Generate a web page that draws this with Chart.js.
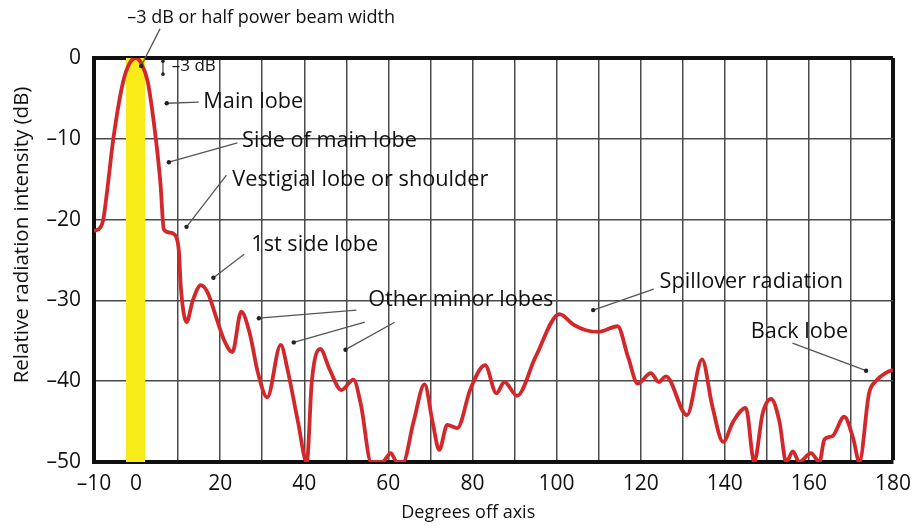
<!DOCTYPE html>
<html>
<head>
<meta charset="utf-8">
<script src="https://cdn.jsdelivr.net/npm/chart.js@4.4.1/dist/chart.umd.min.js"></script>
<style>
  html, body { margin: 0; background: #fff; }
  #wrap { width: 920px; height: 530px; }
</style>
</head>
<body>
<div id="wrap"><canvas id="beamChart"></canvas></div>
<script>
// angle off boresight (degrees) and relative intensity (dB)
const angles = [
  -10, -8.5, -7.8, -7, -5.4, -3.1, -1.5, 0, 1.2, 2.8, 4.7, 5.8, 6.6, 8, 9.4,
  10.2, 10.6, 11.3, 12, 13.5, 15.4, 17, 19, 21, 22.9, 25, 27, 29, 31.2, 34.4,
  36, 38.5, 40.6, 41.8, 43.8, 46, 48.8, 51.7, 53.5, 55.9, 58.5, 60.6, 62, 63.5,
  66, 68.6, 70.5, 72.1, 74, 76.4, 79.5, 83, 85.7, 87.6, 90.6, 95, 100.7, 104,
  107, 110, 114.5, 117, 119.3, 122.4, 124.3, 126, 131, 134.6, 137, 139.6, 142,
  145, 147, 149, 151, 153, 154.6, 156.2, 157.7, 160.5, 162.5, 163.7, 165.6,
  168.4, 170.5, 172, 174.3, 175.9, 178.5, 180
];
const intensity = [
  -21.4, -21, -20, -17, -10, -3, -0.6, 0, -0.6, -3, -10, -15.5, -21.2, -21.6, -22,
  -24, -28, -31.5, -32.7, -30, -28.1, -29, -32, -35, -36.4, -31.4, -34, -39, -42, -35.5,
  -38.5, -45, -50, -40, -36, -38.5, -41.1, -39.8, -43, -50, -50, -48.9, -50, -50,
  -45, -40.4, -45, -48.5, -45.4, -45.8, -41, -38, -41.5, -40.1, -41.8, -37, -31.7, -33,
  -33.7, -33.9, -33.2, -37, -40.3, -39, -40.1, -39.4, -44.2, -37.3, -43, -47.5, -45,
  -43.3, -50, -44, -42.2, -45, -50, -48.7, -50, -48.9, -50, -47.2, -46.8,
  -44.4, -47, -50, -41.5, -40, -38.9, -38.6
];

// half power beam band
const beamEdges = [-2.4, 2.2];
const beamLevel = [0, 0];

const xLabelled = [-10, 0, 20, 40, 60, 80, 100, 120, 140, 160, 180];

const xTitle = 'Degrees off axis';
const yTitle = 'Relative radiation intensity (dB)';

const FONT = "'Open Sans', sans-serif";
const fmt = v => (v < 0 ? '\u2013' + Math.abs(v) : String(v));

// callouts, placed in data units: text start, then arrow [fromX, fromY, toX, toY]
const notes = [
  { text: '\u20133 dB or half power beam width', at: [-2.1, 4.95], size: 18, arrows: [[5.7, 3.6, 1.2, -1.0]] },
  { text: '\u20133 dB', at: [8.5, -1.0], size: 17, arrows: [] },
  { text: 'Main lobe', at: [16.0, -5.45], arrows: [[14.9, -5.45, 7.3, -5.6]] },
  { text: 'Side of main lobe', at: [25.2, -10.3], arrows: [[24.1, -10.5, 7.8, -12.9]] },
  { text: 'Vestigial lobe or shoulder', at: [22.9, -15.1], arrows: [[21.5, -14.5, 12.0, -20.9]] },
  { text: '1st side lobe', at: [27.4, -23.1], arrows: [[25.7, -24.3, 18.4, -27.2]] },
  { text: 'Other minor lobes', at: [55.2, -29.95], arrows: [
    [52.4, -31.2, 29.2, -32.2],
    [54.4, -32.7, 37.5, -35.2],
    [61.5, -32.7, 49.8, -36.1]
  ] },
  { text: 'Spillover radiation', at: [124.5, -27.7], arrows: [[123.1, -28.6, 108.7, -31.2]] },
  { text: 'Back lobe', at: [146.2, -33.9], arrows: [[156.1, -35.3, 173.6, -38.7]] }
];

const calloutPlugin = {
  id: 'callouts',
  afterDatasetsDraw(chart) {
    const { ctx, scales: { x, y } } = chart;
    ctx.save();
    notes.forEach(n => {
      n.arrows.forEach(a => {
        const x1 = x.getPixelForValue(a[0]), y1 = y.getPixelForValue(a[1]);
        const x2 = x.getPixelForValue(a[2]), y2 = y.getPixelForValue(a[3]);
        ctx.strokeStyle = '#555';
        ctx.lineWidth = 1.3;
        ctx.beginPath();
        ctx.moveTo(x1, y1);
        ctx.lineTo(x2, y2);
        ctx.stroke();
        ctx.fillStyle = '#222';
        ctx.beginPath();
        ctx.arc(x2, y2, 2.2, 0, Math.PI * 2);
        ctx.fill();
      });
      ctx.fillStyle = '#111';
      ctx.font = (n.size || 21.7) + 'px ' + FONT;
      ctx.textAlign = 'left';
      ctx.textBaseline = 'middle';
      ctx.fillText(n.text, x.getPixelForValue(n.at[0]), y.getPixelForValue(n.at[1]));
    });

    // small double arrow marking the 3 dB drop
    const ax = x.getPixelForValue(6.4);
    const ay1 = y.getPixelForValue(-0.4), ay2 = y.getPixelForValue(-2.0);
    ctx.strokeStyle = '#444';
    ctx.lineWidth = 1.2;
    ctx.beginPath();
    ctx.moveTo(ax, ay1);
    ctx.lineTo(ax, ay2);
    ctx.stroke();
    ctx.fillStyle = '#222';
    [ay1, ay2].forEach(py => {
      ctx.beginPath();
      ctx.arc(ax, py, 1.8, 0, Math.PI * 2);
      ctx.fill();
    });

    // axis titles, set a little off the plot centre
    ctx.fillStyle = '#111';
    ctx.textAlign = 'center';
    ctx.textBaseline = 'middle';
    ctx.font = '18px ' + FONT;
    ctx.fillText(xTitle, x.getPixelForValue(79), chart.height - 17);
    ctx.translate(22, y.getPixelForValue(-21.9));
    ctx.rotate(-Math.PI / 2);
    ctx.font = '20.5px ' + FONT;
    ctx.fillText(yTitle, 0, 0);
    ctx.restore();
  }
};

new Chart(document.getElementById('beamChart'), {
  type: 'line',
  data: {
    datasets: [
      {
        label: 'Radiation pattern',
        data: angles.map((a, i) => ({ x: a, y: intensity[i] })),
        borderColor: '#d2282c',
        borderWidth: 3.8,
        pointRadius: 0,
        cubicInterpolationMode: 'monotone',
        fill: false,
        order: 0
      },
      {
        label: 'Half power beam',
        data: beamEdges.map((a, i) => ({ x: a, y: beamLevel[i] })),
        borderWidth: 0,
        pointRadius: 0,
        backgroundColor: '#f7ec17',
        fill: 'start',
        order: 1
      }
    ]
  },
  options: {
    responsive: true,
    maintainAspectRatio: false,
    animation: false,
    layout: { padding: { top: 58, right: 24, left: 0, bottom: 0 } },
    plugins: {
      legend: { display: false },
      tooltip: { enabled: false }
    },
    scales: {
      x: {
        type: 'linear',
        min: -10,
        max: 180,
        afterFit: s => { s.height = 68; },
        ticks: {
          stepSize: 10,
          autoSkip: false,
          maxRotation: 0,
          padding: 9,
          color: '#111',
          font: { family: FONT, size: 21 },
          callback: v => (xLabelled.includes(v) ? fmt(v) : '')
        },
        grid: {
          drawTicks: false,
          color: c => (c.tick && c.tick.value === 180 ? '#111' : '#4a4a4a'),
          lineWidth: c => (c.tick && c.tick.value === 180 ? 4 : 1.5)
        },
        border: { color: '#111', width: 4 }
      },
      y: {
        min: -50,
        max: 0,
        afterFit: s => { s.width = 94; },
        ticks: {
          stepSize: 10,
          padding: 13,
          color: '#111',
          font: { family: FONT, size: 21 },
          callback: v => fmt(v)
        },
        grid: {
          drawTicks: false,
          color: c => (c.tick && c.tick.value === 0 ? '#111' : '#4a4a4a'),
          lineWidth: c => (c.tick && c.tick.value === 0 ? 4 : 1.5)
        },
        border: { color: '#111', width: 4 }
      }
    }
  },
  plugins: [calloutPlugin]
});
</script>
</body>
</html>
